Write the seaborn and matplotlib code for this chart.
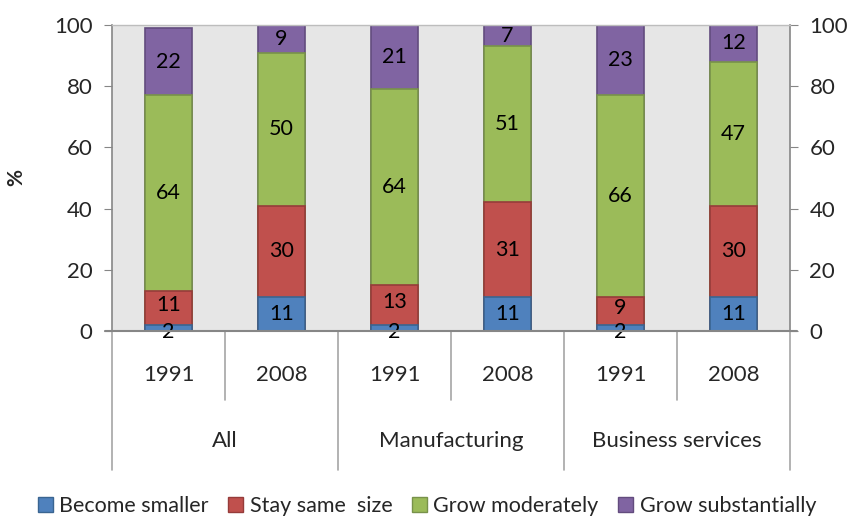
import matplotlib
matplotlib.use("Agg")
import matplotlib.pyplot as plt
from matplotlib.patches import Patch
from matplotlib.lines import Line2D
import matplotlib.transforms as mtransforms
import numpy as np
import pandas as pd
import seaborn as sns

groups = ["All", "Manufacturing", "Business services"]
years = ["1991", "2008"]
become_smaller = [2, 11, 2, 11, 2, 11]
stay_same = [11, 30, 13, 31, 9, 30]
grow_moderately = [64, 50, 64, 51, 66, 47]
grow_substantially = [22, 9, 21, 7, 23, 12]

series_names = ["Become smaller", "Stay same  size", "Grow moderately", "Grow substantially"]
series_vals = [become_smaller, stay_same, grow_moderately, grow_substantially]
colors = ["#4F81BD", "#C0504D", "#9BBB59", "#8064A2"]
edges = ["#3A6591", "#963C3A", "#78924A", "#634C7E"]

sns.set_style("white")
plt.rcParams["font.family"] = ["Lato", "DejaVu Sans"]

bars = [f"{g} {y}" for g in groups for y in years]
df = pd.DataFrame({"bar": bars})
cum = np.cumsum(np.array(series_vals), axis=0)
for i, name in enumerate(series_names):
    df[name] = cum[i]

fig = plt.figure(figsize=(8.54, 5.17), dpi=100)
ax = fig.add_axes([112 / 854, 1 - 331 / 517, (790 - 112) / 854, (331 - 25) / 517])
ax.set_facecolor("#E6E6E6")

# stacked bars: draw cumulative totals from the top layer down
for i in range(3, -1, -1):
    sns.barplot(data=df, x="bar", y=series_names[i], order=bars, color=colors[i],
                width=0.42, edgecolor=edges[i], linewidth=1.2, saturation=1, ax=ax)

# value labels, nudged apart where the bottom segment is tiny
for i, vals in enumerate(series_vals):
    for j, v in enumerate(vals):
        mid = cum[i][j] - v / 2
        dy = 0
        if i == 0 and v < 5:
            dy = -3
        elif i == 1 and series_vals[0][j] < 5:
            dy = 2
        ax.annotate(str(v), (j, mid), xytext=(0, dy), textcoords="offset points",
                    ha="center", va="center", fontsize=15.5, color="black")

ax.set_xlim(-0.5, 5.5)
ax.set_ylim(0, 100)
ax.set_yticks(range(0, 101, 20))
ax.set_xticks([])
ax.set_xlabel("")
ax.set_ylabel("%", fontsize=15, fontweight="bold", labelpad=20)
ax.tick_params(axis="y", which="both", left=True, right=True, labelleft=True, labelright=True,
               direction="out", length=6, color="#868686", labelsize=16, pad=8)

for side in ["left", "right"]:
    ax.spines[side].set_color("#868686")
    ax.spines[side].set_linewidth(1.2)
ax.spines["top"].set_color("#BDBDBD")
ax.spines["top"].set_linewidth(1.0)
ax.spines["bottom"].set_visible(False)

# baseline extending beyond the axes
trans_ax = ax.transAxes
ax.add_line(Line2D([-0.011, 1.011], [0, 0], transform=trans_ax, color="#868686",
                   lw=1.5, clip_on=False, zorder=5))

# two-level category axis
blend = mtransforms.blended_transform_factory(ax.transData, ax.transAxes)
for j, b in enumerate(bars):
    ax.text(j, -0.144, years[j % 2], transform=blend, ha="center", va="center", fontsize=16)
for k, g in enumerate(groups):
    ax.text(2 * k + 0.5, -0.359, g, transform=blend, ha="center", va="center", fontsize=16)
for x in [-0.5, 1.5, 3.5, 5.5]:
    ax.add_line(Line2D([x, x], [0, -0.454], transform=blend, color="#A6A6A6", lw=1.2, clip_on=False))
for x in [0.5, 2.5, 4.5]:
    ax.add_line(Line2D([x, x], [0, -0.225], transform=blend, color="#A6A6A6", lw=1.2, clip_on=False))

handles = [Patch(facecolor=c, edgecolor=e, label=n) for c, e, n in zip(colors, edges, series_names)]
fig.legend(handles=handles, loc="center", bbox_to_anchor=(0.5, 0.022), ncol=4, frameon=False,
           fontsize=15.5, handlelength=0.7, handleheight=0.7, handletextpad=0.3, columnspacing=0.9)

fig.savefig("out.png", dpi=100)
